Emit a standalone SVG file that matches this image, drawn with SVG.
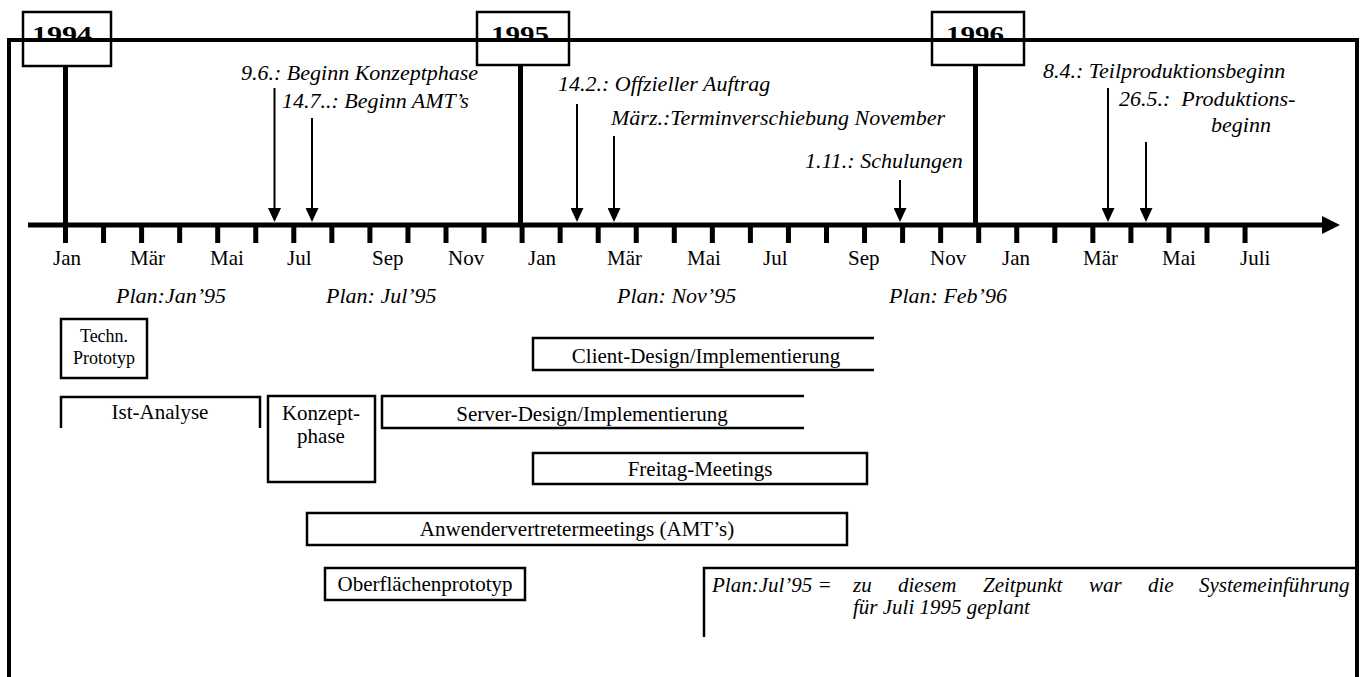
<svg xmlns="http://www.w3.org/2000/svg" width="1366" height="677" viewBox="0 0 1366 677">
<defs>
<style>
text{font-family:"Liberation Serif","Times New Roman",serif;font-size:21px;fill:#000}
.it{font-style:italic;font-size:22px}
.lg{font-style:italic;font-size:21px}
.yr{font-weight:bold;font-size:23px}
.sm{font-size:18px}
.frame{fill:none;stroke:#000;stroke-width:4}
.thick{stroke:#000;stroke-width:5;fill:none}
.box{fill:none;stroke:#000;stroke-width:2.5}
.ybox{fill:none;stroke:#000;stroke-width:2.5}
.arr{stroke:#000;stroke-width:2;fill:none;marker-end:url(#ah)}
</style>
<marker id="ah" viewBox="0 0 14 13" refX="6" refY="6.5" markerWidth="14" markerHeight="13" markerUnits="userSpaceOnUse" orient="auto">
<path d="M0,0 L14,6.5 L0,13 z" fill="#000"/>
</marker>
</defs>
<rect width="1366" height="677" fill="#fff"/>

<g id="year-1994">
<rect class="ybox" x="23" y="12" width="88" height="54"/>
<text class="yr" x="32" y="42" textLength="60" lengthAdjust="spacingAndGlyphs">1994</text>
</g>
<g id="year-1995">
<rect class="ybox" x="477" y="12" width="92" height="53"/>
<text class="yr" x="491" y="42" textLength="58" lengthAdjust="spacingAndGlyphs">1995</text>
</g>
<g id="year-1996">
<rect class="ybox" x="932" y="12" width="92" height="53"/>
<text class="yr" x="946" y="42" textLength="58" lengthAdjust="spacingAndGlyphs">1996</text>
</g>

<g id="frame">
<path class="frame" d="M9,677 V40 H1357 V677"/>
</g>

<g id="timeline">
<line class="thick" x1="65.5" y1="66" x2="65.5" y2="243"/>
<line class="thick" x1="520.5" y1="65" x2="520.5" y2="225"/>
<line class="thick" x1="975.5" y1="65" x2="975.5" y2="225"/>
<line class="thick" x1="28" y1="225" x2="1324" y2="225"/>
<polygon points="1322,216 1340,225 1322,234" fill="#000"/>
<path class="thick" d="M103.55,225V243 M141.6,225V243 M179.65,225V243 M217.7,225V243 M255.75,225V243 M293.8,225V243 M331.85,225V243 M369.9,225V243 M407.95,225V243 M446,225V243 M484.05,225V243 M522.1,225V243 M560.15,225V243 M598.2,225V243 M636.25,225V243 M674.3,225V243 M712.35,225V243 M750.4,225V243 M788.45,225V243 M826.5,225V243 M864.55,225V243 M902.6,225V243 M940.65,225V243 M978.7,225V243 M1016.75,225V243 M1054.8,225V243 M1092.85,225V243 M1130.9,225V243 M1168.95,225V243 M1207,225V243 M1245.05,225V243"/>
</g>

<g id="months">
<text x="53" y="265">Jan</text>
<text x="130" y="265">Mär</text>
<text x="210" y="265">Mai</text>
<text x="287" y="265">Jul</text>
<text x="372" y="265">Sep</text>
<text x="448" y="265">Nov</text>
<text x="528" y="265">Jan</text>
<text x="607" y="265">Mär</text>
<text x="687" y="265">Mai</text>
<text x="763" y="265">Jul</text>
<text x="848" y="265">Sep</text>
<text x="930" y="265">Nov</text>
<text x="1002" y="265">Jan</text>
<text x="1083" y="265">Mär</text>
<text x="1162" y="265">Mai</text>
<text x="1240" y="265">Juli</text>
</g>

<g id="plans">
<text class="it" x="116" y="303">Plan:Jan’95</text>
<text class="it" x="326" y="303">Plan: Jul’95</text>
<text class="it" x="617" y="303">Plan: Nov’95</text>
<text class="it" x="889" y="303">Plan: Feb’96</text>
</g>

<g id="events">
<text class="it" x="241" y="80">9.6.: Beginn Konzeptphase</text>
<text class="it" x="282" y="108">14.7..: Beginn AMT’s</text>
<text class="it" x="558" y="91">14.2.: Offzieller Auftrag</text>
<text class="it" x="611" y="125">März.:Terminverschiebung November</text>
<text class="it" x="805" y="168">1.11.: Schulungen</text>
<text class="it" x="1043" y="78">8.4.: Teilproduktionsbeginn</text>
<text class="it" x="1119" y="106" xml:space="preserve">26.5.:  Produktions-</text>
<text class="it" x="1211" y="132">beginn</text>
</g>

<g id="connectors">
<line class="arr" x1="274.5" y1="88" x2="274.5" y2="214"/>
<line class="arr" x1="312" y1="118" x2="312" y2="214"/>
<line class="arr" x1="577" y1="104" x2="577" y2="214"/>
<line class="arr" x1="614" y1="136" x2="614" y2="214"/>
<line class="arr" x1="900" y1="180" x2="900" y2="214"/>
<line class="arr" x1="1108" y1="88" x2="1108" y2="214"/>
<line class="arr" x1="1146" y1="142" x2="1146" y2="214"/>
</g>

<g id="techn-prototyp">
<rect class="box" x="61" y="319" width="86" height="59"/>
<text class="sm" x="104" y="342" text-anchor="middle">Techn.</text>
<text class="sm" x="104" y="364" text-anchor="middle">Prototyp</text>
</g>
<g id="ist-analyse">
<path class="box" d="M61,428 V397 H260 V428"/>
<text x="160" y="419" text-anchor="middle">Ist-Analyse</text>
</g>
<g id="konzeptphase">
<rect class="box" x="268" y="396" width="107" height="86"/>
<text x="321" y="420" text-anchor="middle">Konzept-</text>
<text x="321" y="443" text-anchor="middle">phase</text>
</g>
<g id="server-design">
<path class="box" d="M804,396 H382 V428 H804"/>
<text x="592" y="421" text-anchor="middle">Server-Design/Implementierung</text>
</g>
<g id="client-design">
<path class="box" d="M874,338 H533 V370 H874"/>
<text x="706" y="363" text-anchor="middle">Client-Design/Implementierung</text>
</g>
<g id="freitag-meetings">
<rect class="box" x="533" y="453" width="334" height="31"/>
<text x="700" y="476" text-anchor="middle">Freitag-Meetings</text>
</g>
<g id="anwender">
<rect class="box" x="307" y="513" width="540" height="32"/>
<text x="577" y="536" text-anchor="middle">Anwendervertretermeetings (AMT’s)</text>
</g>
<g id="oberflaechen">
<rect class="box" x="325" y="568" width="200" height="32"/>
<text x="425" y="591" text-anchor="middle">Oberflächenprototyp</text>
</g>
<g id="legend">
<path class="box" d="M704,637 V568 H1357"/>
<text class="lg" x="712" y="592">Plan:Jul’95 =</text>
<text class="lg" y="592"><tspan x="853">zu</tspan><tspan x="898">diesem</tspan><tspan x="983">Zeitpunkt</tspan><tspan x="1089">war</tspan><tspan x="1148">die</tspan><tspan x="1199">Systemeinführung</tspan></text>
<text class="lg" x="853" y="614">für Juli 1995 geplant</text>
</g>
</svg>
